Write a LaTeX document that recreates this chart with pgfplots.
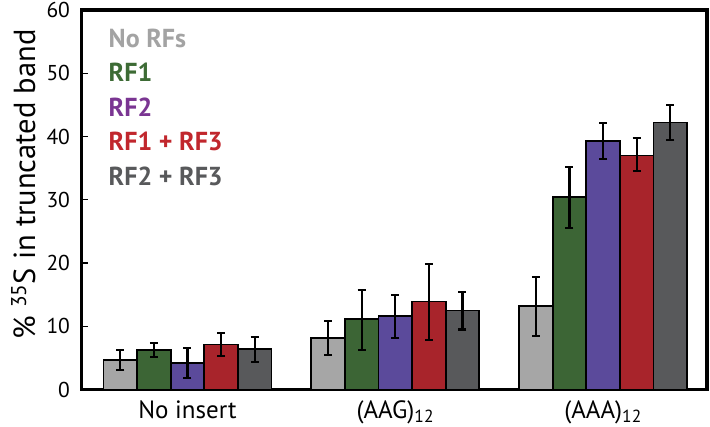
\documentclass[border=0pt]{standalone}
\usepackage{pgfplots}
\pgfplotsset{compat=1.18}
\usepackage{fontspec}
\setmainfont{PT Sans}
\definecolor{cNo}{HTML}{A6A6A6}
\definecolor{cRFa}{HTML}{3C6535}
\definecolor{cRFb}{HTML}{5B4A9B}
\definecolor{cRFc}{HTML}{A8242B}
\definecolor{cRFd}{HTML}{58595B}
\definecolor{tNo}{HTML}{A3A3A3}
\definecolor{tRFa}{HTML}{3D6B35}
\definecolor{tRFb}{HTML}{7A3592}
\definecolor{tRFc}{HTML}{C1272D}
\definecolor{tRFd}{HTML}{58595B}
\begin{document}
\begin{tikzpicture}
\begin{axis}[
  scale only axis,
  width=625.5pt, height=379.5pt,
  xmin=-0.51, xmax=2.5,
  ymin=0, ymax=60,
  ybar=0pt, bar width=33.6pt,
  axis line style={line width=3.2pt},
  xtick={0,1,2},
  xticklabels={No insert,(AAG)\textsubscript{12},(AAA)\textsubscript{12}},
  xtick style={draw=none},
  ytick={0,10,20,30,40,50,60},
  ytick style={line width=1.3pt, black},
  tick pos=left, tick align=inside, major tick length=6pt,
  /pgf/number format/assume math mode=true,
  yticklabel style={font=\fontsize{21.5}{25}\selectfont, xshift=-8pt},
  xticklabel style={font=\fontsize{25}{29}\selectfont, yshift=-8pt},
  ylabel={\% \textsuperscript{35}S in truncated band},
  ylabel style={font=\fontsize{30.5}{34}\selectfont, at={(axis description cs:-0.093,0.54)}, anchor=center},
  legend image code/.code={},
  legend cell align=left,
  legend style={draw=none, fill=none, at={(axis description cs:0,1)}, anchor=north west,
    xshift=24pt, yshift=-17pt, row sep=16.5pt,
    font=\fontsize{26}{30}\selectfont\bfseries,
    nodes={inner sep=0pt, text height=18pt, text depth=0pt}},
  error bars/y dir=both, error bars/y explicit,
  error bars/error bar style={line width=2.2pt, black},
  error bars/error mark options={line width=2.2pt, black, mark size=4pt, rotate=90},
]
\addplot[fill=cNo, draw=black, line width=1.8pt] coordinates {
  (0,4.7) += (0,1.5) -= (0,1.6)
  (1,8.2) += (0,2.6) -= (0,2.7)
  (2,13.2) += (0,4.6) -= (0,4.7)};
\addplot[fill=cRFa, draw=black, line width=1.8pt] coordinates {
  (0,6.2) += (0,1.1) -= (0,1.1)
  (1,11.1) += (0,4.6) -= (0,4.8)
  (2,30.4) += (0,4.8) -= (0,4.9)};
\addplot[fill=cRFb, draw=black, line width=1.8pt] coordinates {
  (0,4.2) += (0,2.3) -= (0,2.4)
  (1,11.6) += (0,3.4) -= (0,3.5)
  (2,39.3) += (0,2.8) -= (0,2.8)};
\addplot[fill=cRFc, draw=black, line width=1.8pt] coordinates {
  (0,7.1) += (0,1.85) -= (0,1.85)
  (1,13.9) += (0,6.0) -= (0,6.1)
  (2,37.0) += (0,2.7) -= (0,2.5)};
\addplot[fill=cRFd, draw=black, line width=1.8pt] coordinates {
  (0,6.4) += (0,1.9) -= (0,2.1)
  (1,12.5) += (0,2.9) -= (0,3.0)
  (2,42.2) += (0,2.8) -= (0,2.8)};
\legend{\textcolor{tNo}{No RFs},\textcolor{tRFa}{RF1},\textcolor{tRFb}{RF2},\textcolor{tRFc}{RF1 + RF3},\textcolor{tRFd}{RF2 + RF3}}
\end{axis}
\pgfresetboundingbox
\path[use as bounding box] (-81.5pt,-37.5pt) rectangle (628.5pt,389.5pt);
\end{tikzpicture}
\end{document}
